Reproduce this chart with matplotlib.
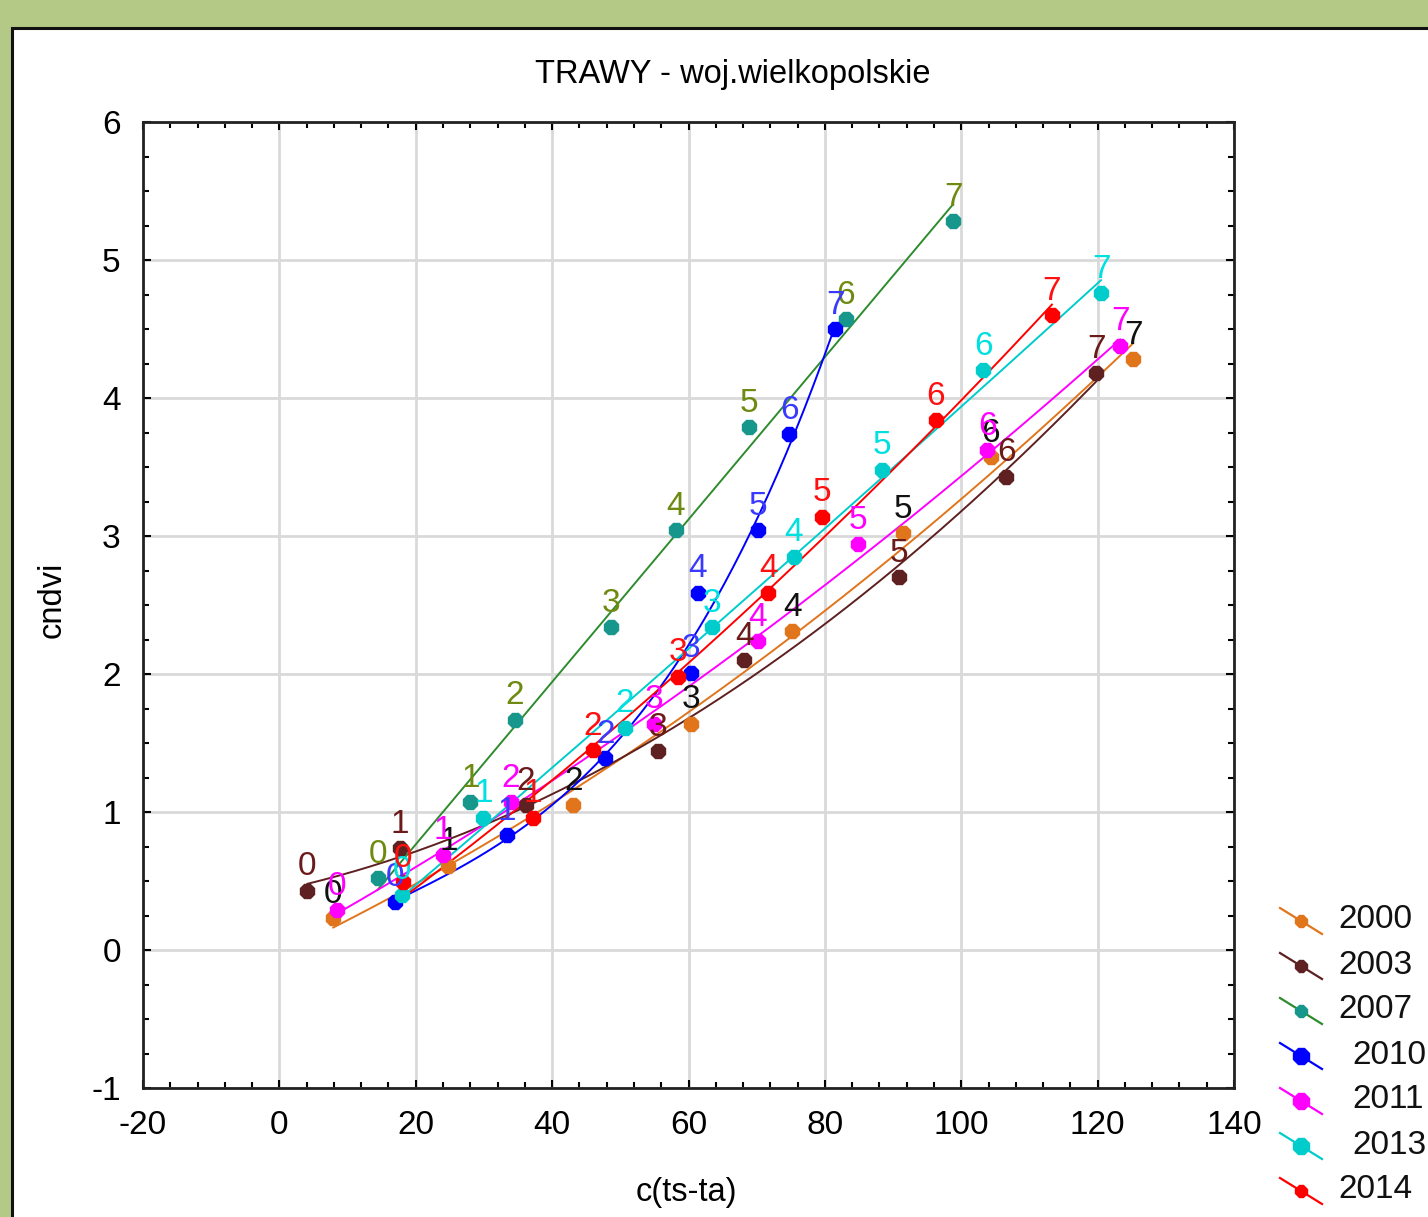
import numpy as np
import matplotlib
matplotlib.use("Agg")
import matplotlib.pyplot as plt
from matplotlib.patches import Rectangle
from matplotlib.lines import Line2D

plt.rcParams['font.family'] = ['Liberation Sans', 'DejaVu Sans']
plt.rcParams['axes.unicode_minus'] = False

# data: c(ts-ta) and cndvi for each year, points indexed 0..7
years = ['2000', '2003', '2007', '2010', '2011', '2013', '2014']
x_2000 = [7.9, 24.8, 43.1, 60.4, 75.2, 91.5, 104.3, 125.2]
y_2000 = [0.23, 0.61, 1.05, 1.64, 2.31, 3.02, 3.57, 4.28]
x_2003 = [4.1, 17.7, 36.1, 55.6, 68.2, 90.9, 106.6, 119.8]
y_2003 = [0.43, 0.74, 1.05, 1.44, 2.10, 2.70, 3.43, 4.18]
x_2007 = [14.4, 28.0, 34.5, 48.7, 58.1, 68.9, 83.1, 98.8]
y_2007 = [0.52, 1.07, 1.67, 2.34, 3.04, 3.79, 4.57, 5.28]
x_2010 = [16.9, 33.4, 47.8, 60.3, 61.4, 70.2, 74.8, 81.5]
y_2010 = [0.35, 0.83, 1.39, 2.01, 2.59, 3.04, 3.74, 4.50]
x_2011 = [8.4, 24.0, 33.9, 55.0, 70.2, 84.9, 103.8, 123.3]
y_2011 = [0.29, 0.69, 1.07, 1.64, 2.24, 2.94, 3.62, 4.38]
x_2013 = [18.0, 29.9, 50.7, 63.5, 75.4, 88.4, 103.2, 120.5]
y_2013 = [0.40, 0.96, 1.61, 2.34, 2.85, 3.48, 4.20, 4.76]
x_2014 = [18.2, 37.2, 46.0, 58.5, 71.7, 79.6, 96.3, 113.3]
y_2014 = [0.49, 0.96, 1.45, 1.98, 2.59, 3.14, 3.84, 4.60]

xs = [x_2000, x_2003, x_2007, x_2010, x_2011, x_2013, x_2014]
ys = [y_2000, y_2003, y_2007, y_2010, y_2011, y_2013, y_2014]
fit_deg = [2, 2, 1, 3, 2, 2, 2]

marker_colors = ['#e0751c', '#5e2020', '#17968c', '#0000ff', '#ff00ff', '#00cccc', '#ff0000']
line_colors = ['#e0751c', '#5e2020', '#2e8b2e', '#0000ff', '#ff00ff', '#00cccc', '#ff0000']
label_colors = ['#111111', '#6b1a1a', '#6e8a10', '#3a3aff', '#ff00ff', '#00e0e0', '#ff1010']

W, H = 1428, 1217
fig = plt.figure(figsize=(W / 100, H / 100), dpi=100)
fig.patch.set_facecolor('#b3c985')
panel = Rectangle((12 / W, -0.05), 1.2, (H - 28) / H + 0.05,
                  transform=fig.transFigure, facecolor='white',
                  edgecolor='#111111', linewidth=2.2, zorder=-5)
fig.add_artist(panel)

ax = fig.add_axes([143 / W, 129 / H, (1234 - 143) / W, (1088 - 122) / H])
ax.set_zorder(2)
ax.set_xlim(-20, 140)
ax.set_ylim(-1, 6)
ax.set_xticks(range(-20, 141, 20))
ax.set_yticks(range(-1, 7))
ax.set_xticks(np.arange(-20, 141, 4), minor=True)
ax.set_yticks(np.arange(-1, 6.01, 0.25), minor=True)
ax.grid(True, which='major', color='#d9d9d9', linewidth=2)
ax.set_axisbelow(True)
ax.tick_params(which='both', direction='in', top=True, right=True, width=1.5)
ax.tick_params(which='major', length=6, labelsize=24, pad=16)
ax.tick_params(which='minor', length=4)
for s in ax.spines.values():
    s.set_linewidth(2)
    s.set_color('#222222')

for i in range(len(years)):
    x = np.array(xs[i])
    y = np.array(ys[i])
    coef = np.polyfit(x, y, fit_deg[i])
    xf = np.linspace(x.min(), x.max(), 200)
    ax.plot(xf, np.polyval(coef, xf), color=line_colors[i], linewidth=1.4, zorder=3)
    ax.plot(x, y, linestyle='none', marker='8', markersize=11,
            color=marker_colors[i], zorder=4)
    for k in range(len(x)):
        ax.annotate(str(k), (x[k], y[k]), xytext=(0, 6), textcoords='offset points',
                    ha='center', va='bottom', fontsize=24, color=label_colors[i], zorder=5)

fig.text(733 / W, 1 - 75 / H, 'TRAWY - woj.wielkopolskie', fontsize=23.5,
         ha='center', va='center')
fig.text(686 / W, 1 - 1192 / H, 'c(ts-ta)', fontsize=23.5, ha='center', va='center')
fig.text(52 / W, 1 - 600 / H, 'cndvi', fontsize=23.5, ha='center', va='center',
         rotation=90)

# legend drawn STATISTICA-style: slanted line with marker, year text
leg_y = [920, 965, 1010, 1055, 1100, 1145, 1190]
leg_ms = [9, 9, 9, 12, 12, 12, 9]
for i, yr in enumerate(years):
    yc = leg_y[i]
    x0, x1 = 1280, 1322
    fig.add_artist(Line2D([x0 / W, x1 / W], [1 - (yc - 12) / H, 1 - (yc + 14) / H],
                          transform=fig.transFigure, color=line_colors[i], linewidth=1.6))
    fig.add_artist(Line2D([(x0 + x1) / 2 / W], [1 - (yc + 1) / H],
                          transform=fig.transFigure, marker='8', markersize=leg_ms[i],
                          color=marker_colors[i], linestyle='none'))
    fig.text((1338 if i < 3 or i == 6 else 1352) / W, 1 - yc / H, yr,
             fontsize=24, ha='left', va='center', color='#111111')

fig.savefig('out.png', dpi=100, facecolor=fig.get_facecolor())
